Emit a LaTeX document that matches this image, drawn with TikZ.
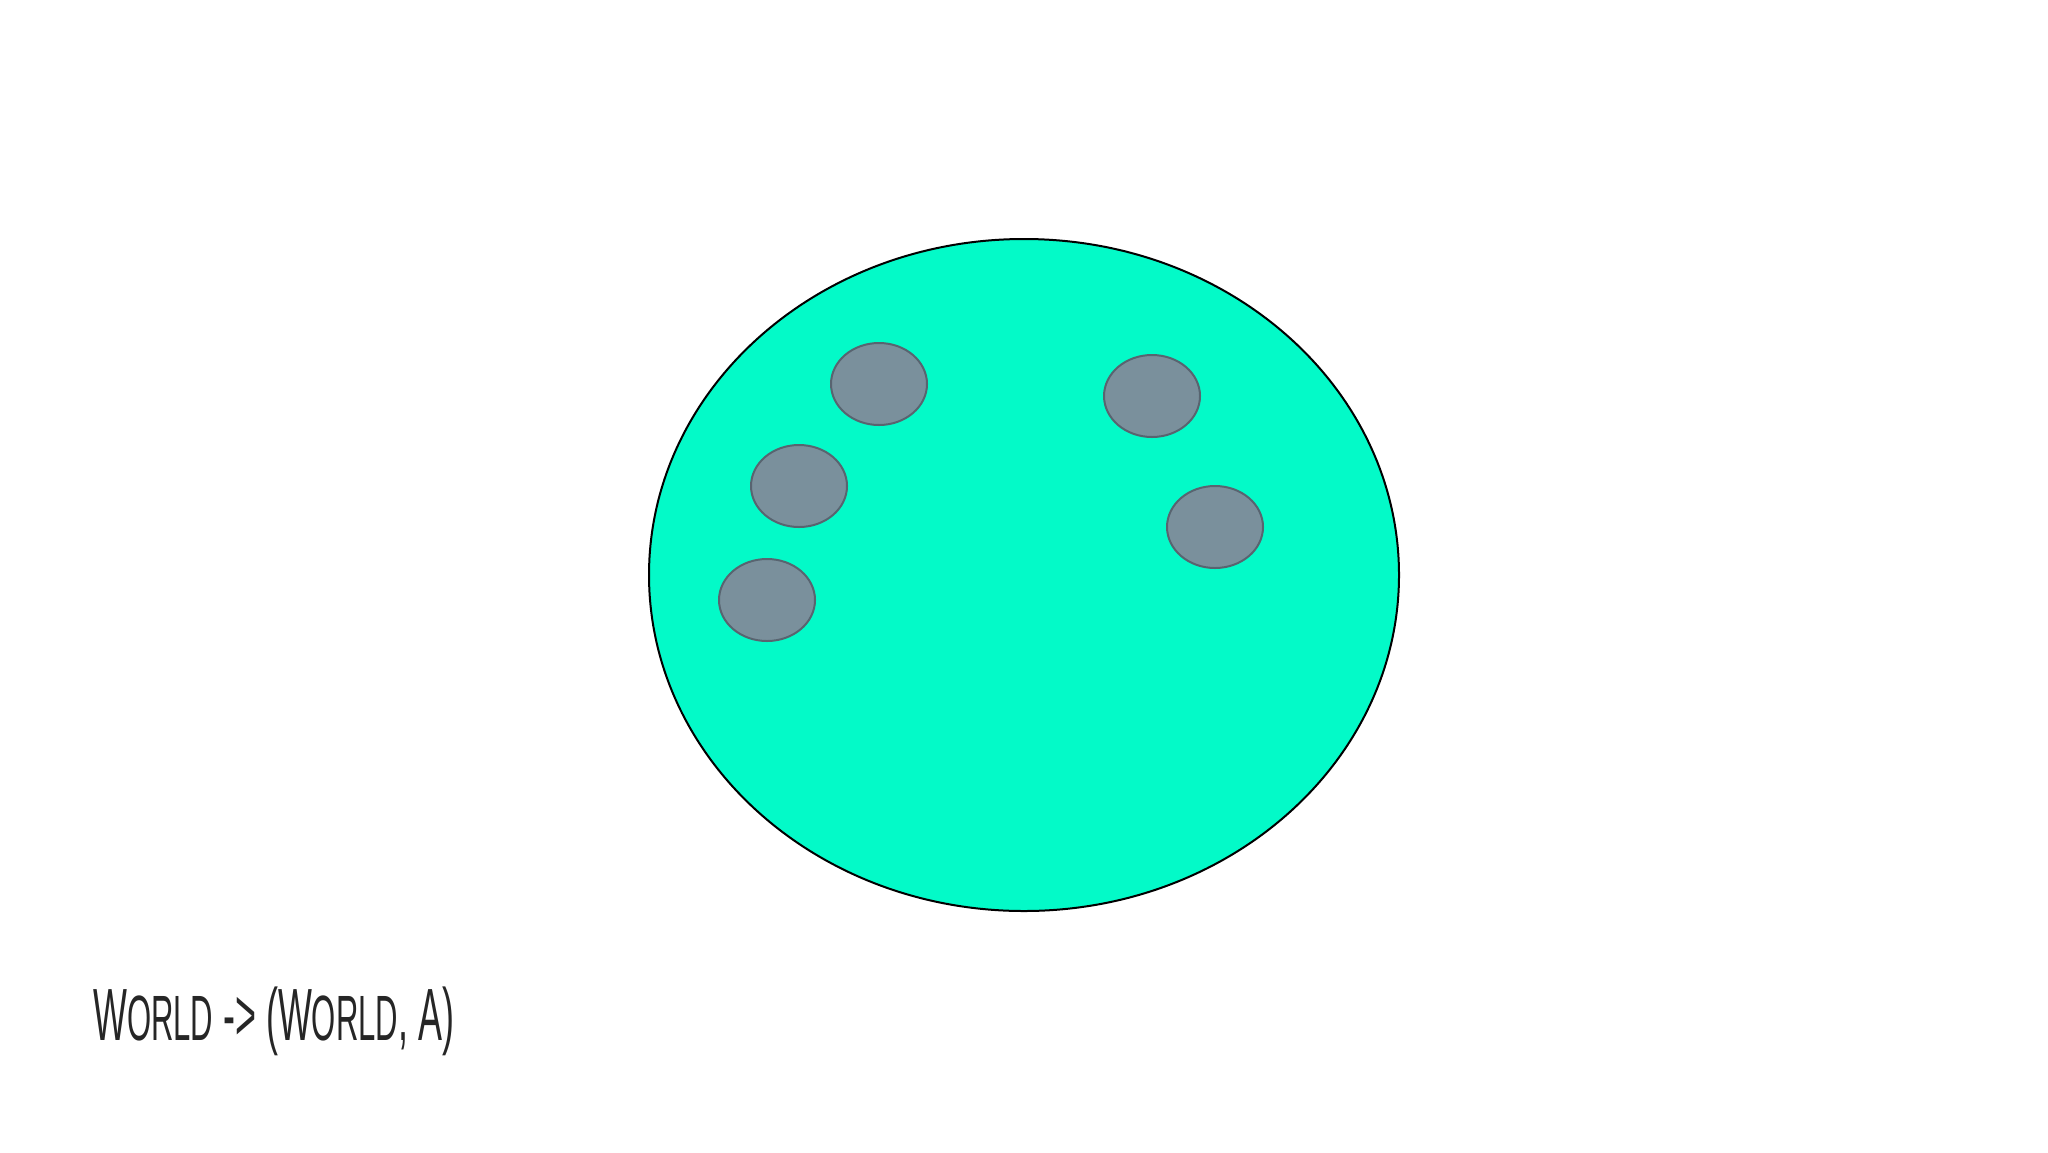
\documentclass[tikz,border=0pt]{standalone}
\usepackage{fontspec}
\setmainfont{Liberation Sans}
\definecolor{worldfill}{RGB}{3,250,200}
\definecolor{blobfill}{RGB}{122,144,156}
\definecolor{blobline}{RGB}{88,100,112}
\newcommand{\smallcap}[1]{{\fontsize{32}{32}\selectfont #1}}
\begin{document}
\begin{tikzpicture}[x=0.5pt,y=-0.5pt]
        \useasboundingbox (0,0) rectangle (2048,1152);
        \filldraw[fill=worldfill, draw=black, line width=1pt] (1024,575) ellipse (375 and 336);
        \filldraw[fill=blobfill, draw=blobline, line width=1pt] (879,384) ellipse (48 and 41);
        \filldraw[fill=blobfill, draw=blobline, line width=1pt] (1152,396) ellipse (48 and 41);
        \filldraw[fill=blobfill, draw=blobline, line width=1pt] (799,486) ellipse (48 and 41);
        \filldraw[fill=blobfill, draw=blobline, line width=1pt] (1215,527) ellipse (48 and 41);
        \filldraw[fill=blobfill, draw=blobline, line width=1pt] (767,600) ellipse (48 and 41);
        \node[anchor=base west, inner sep=0pt, xscale=0.485, text=black!85, font=\fontsize{37}{37}\selectfont] (sig) at (93,1040) {W\smallcap{ORLD} -\textgreater{} (W\smallcap{ORLD}, A)};
    \end{tikzpicture}
\end{document}
